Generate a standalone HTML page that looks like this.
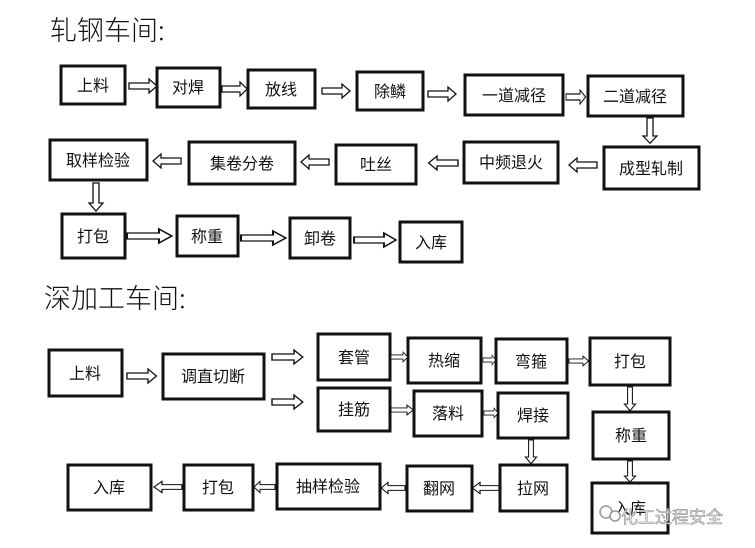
<!DOCTYPE html>
<html><head><meta charset="utf-8"><style>
html,body{margin:0;padding:0;background:#fff;width:755px;height:548px;overflow:hidden}
svg text{font-family:"Liberation Sans","Noto Sans CJK SC",sans-serif;fill:#111}
</style></head><body>
<svg width="755" height="548" viewBox="0 0 755 548" xmlns="http://www.w3.org/2000/svg">
<defs>
<g id="ar"><polygon points="0,-3 20,-3 20,-7 28,0 20,7 20,3 0,3" fill="#fff" stroke="#111" stroke-width="1.3"/></g>
</defs>
<text x="50" y="40" font-size="27" style="font-family:'Noto Sans CJK SC',sans-serif;font-weight:300">轧钢车间:</text>
<text x="44" y="308" font-size="27" style="font-family:'Noto Sans CJK SC',sans-serif;font-weight:300">深加工车间:</text>
<g fill="#fff" stroke="#111" stroke-width="3">
<rect x="61" y="66" width="64" height="38"/>
<rect x="157" y="68" width="63" height="39"/>
<rect x="248" y="70" width="67" height="38"/>
<rect x="357" y="72" width="66" height="38"/>
<rect x="465" y="75" width="98" height="40"/>
<rect x="588" y="76" width="95" height="40"/>
<rect x="604" y="147" width="95" height="42"/>
<rect x="464" y="142" width="94" height="41"/>
<rect x="336" y="145" width="80" height="39"/>
<rect x="189" y="142" width="106" height="42"/>
<rect x="50" y="140" width="97" height="40"/>
<rect x="62" y="214" width="63" height="44"/>
<rect x="177" y="216" width="61" height="40"/>
<rect x="290" y="218" width="60" height="40"/>
<rect x="400" y="222" width="62" height="40"/>

<rect x="49" y="350" width="73" height="46"/>
<rect x="163" y="354" width="101" height="45"/>
<rect x="318" y="334" width="72" height="46"/>
<rect x="408" y="338" width="73" height="45"/>
<rect x="496" y="339" width="71" height="44"/>
<rect x="590" y="338" width="80" height="47"/>
<rect x="318" y="388" width="72" height="43"/>
<rect x="414" y="391" width="68" height="45"/>
<rect x="498" y="393" width="70" height="45"/>
<rect x="593" y="412" width="76" height="47"/>
<rect x="592" y="483" width="76" height="50"/>
<rect x="500" y="465" width="67" height="46"/>
<rect x="407" y="466" width="65" height="45"/>
<rect x="277" y="464" width="103" height="45"/>
<rect x="184" y="465" width="69" height="45"/>
<rect x="68" y="465" width="83" height="45"/>
</g>
<g font-size="16" text-anchor="middle">
<text x="93" y="91">上料</text><text x="188" y="93">对焊</text><text x="281" y="95">放线</text>
<text x="390" y="97">除鳞</text><text x="514" y="101">一道减径</text><text x="635" y="102">二道减径</text>
<text x="651" y="174">成型轧制</text><text x="511" y="168">中频退火</text><text x="376" y="170">吐丝</text>
<text x="242" y="169">集卷分卷</text><text x="98" y="166">取样检验</text>
<text x="93" y="242">打包</text><text x="207" y="242">称重</text><text x="320" y="244">卸卷</text><text x="431" y="248">入库</text>
<text x="85" y="379">上料</text><text x="213" y="382">调直切断</text>
<text x="354" y="363">套管</text><text x="444" y="366">热缩</text><text x="531" y="367">弯箍</text><text x="630" y="367">打包</text>
<text x="354" y="415">挂筋</text><text x="448" y="419">落料</text><text x="533" y="421">焊接</text>
<text x="631" y="441">称重</text><text x="630" y="514">入库</text>
<text x="533" y="494">拉网</text><text x="439" y="494">翻网</text><text x="328" y="492">抽样检验</text>
<text x="218" y="493">打包</text><text x="109" y="493">入库</text>
</g>
<!-- arrows top -->
<use href="#ar" transform="translate(129,86)"/>
<use href="#ar" transform="translate(222,89) scale(0.9,1)"/>
<use href="#ar" transform="translate(322,91)"/>
<use href="#ar" transform="translate(428,94)"/>
<use href="#ar" transform="translate(566,97) scale(0.7,1)"/>
<use href="#ar" transform="translate(650,118) rotate(90) scale(0.9,1)"/>
<use href="#ar" transform="translate(597,165) rotate(180)"/>
<use href="#ar" transform="translate(458,163) rotate(180) scale(1.05,1)"/>
<use href="#ar" transform="translate(329,162) rotate(180)"/>
<use href="#ar" transform="translate(181,161) rotate(180)"/>
<use href="#ar" transform="translate(96,183) rotate(90) scale(1,1)"/>
<use href="#ar" transform="translate(127,236) scale(1.6,1)"/>
<use href="#ar" transform="translate(241,238) scale(1.6,1)"/>
<use href="#ar" transform="translate(354,240) scale(1.5,1)"/>
<!-- arrows bottom -->
<use href="#ar" transform="translate(127,376) scale(1.05,1)"/>
<use href="#ar" transform="translate(272,357) scale(1.1,1)"/>
<use href="#ar" transform="translate(272,402) scale(1.1,1)"/>
<use href="#ar" transform="translate(391,357) scale(0.6,0.7)"/>
<use href="#ar" transform="translate(483,360) scale(0.45,0.7)"/>
<use href="#ar" transform="translate(569,361) scale(0.7,0.7)"/>
<use href="#ar" transform="translate(391,410) scale(0.8,0.7)"/>
<use href="#ar" transform="translate(484,413) scale(0.5,0.7)"/>
<use href="#ar" transform="translate(630,387) rotate(90) scale(0.85,0.8)"/>
<use href="#ar" transform="translate(630,461) rotate(90) scale(0.75,0.8)"/>
<use href="#ar" transform="translate(531,440) rotate(90) scale(0.85,0.8)"/>
<use href="#ar" transform="translate(499,488) rotate(180) scale(0.95,0.8)"/>
<use href="#ar" transform="translate(405,488) rotate(180) scale(0.85,0.8)"/>
<use href="#ar" transform="translate(275,487) rotate(180) scale(0.75,0.8)"/>
<use href="#ar" transform="translate(182,487) rotate(180) scale(1,0.8)"/>
<!-- watermark -->
<circle cx="606" cy="512" r="6" fill="#fff" stroke="#999" stroke-width="1.5"/>
<circle cx="615" cy="516" r="5" fill="#fff" stroke="#999" stroke-width="1.5"/>
<text x="621" y="523" font-size="17" fill="#fff" stroke="#888" stroke-width="0.6" style="fill:#f4f4f4">化工过程安全</text>
</svg>
</body></html>
